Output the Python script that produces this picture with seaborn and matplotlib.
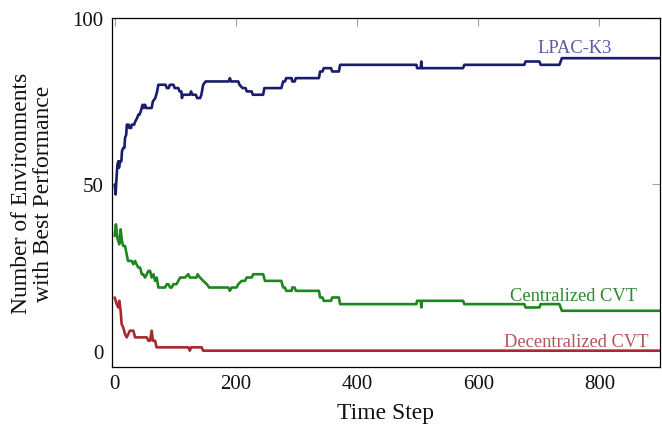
import matplotlib
matplotlib.use("Agg")
import matplotlib.pyplot as plt
import pandas as pd
import seaborn as sns

# ---- data ----
lpac_t = [0, 1.5, 3, 4.5, 6, 7, 9, 11, 12, 14,
          16, 17, 19, 20, 23, 24, 27, 28, 32, 34,
          37, 39, 41, 43, 46, 48, 50, 52, 61, 63,
          67, 70, 72, 84, 86, 89, 91, 97, 99, 105,
          107, 110, 111, 112, 124, 126, 128, 134, 136, 141,
          143, 146, 150, 188, 190, 192, 204, 206, 211, 216,
          218, 226, 228, 245, 247, 275, 278, 281, 283, 292,
          293, 297, 299, 337, 339, 343, 345, 357, 359, 370,
          372, 498, 499, 505, 506, 507, 575, 577, 676, 678,
          701, 703, 734, 738, 900]
lpac_v = [50, 47, 52, 56, 57, 55, 57, 57, 60, 61,
          61, 64, 65, 68, 68, 67, 67, 68, 68, 69,
          70, 71, 71, 72, 74, 73, 74, 73, 73, 75,
          76, 78, 80, 80, 79, 79, 80, 80, 79, 79,
          78, 78, 76, 77, 77, 78, 77, 77, 76, 76,
          77, 80, 81, 81, 82, 81, 81, 80, 79, 79,
          78, 78, 77, 77, 79, 79, 81, 81, 82, 82,
          81, 81, 82, 82, 84, 84, 85, 85, 84, 84,
          86, 86, 85, 85, 87, 85, 85, 86, 86, 87,
          87, 86, 86, 88, 88]

central_t = [0, 2, 4.3, 7.6, 9.8, 12, 14, 17, 19.7, 22,
             28, 30.8, 33.6, 36, 39, 42, 44.6, 47, 50, 53,
             55.6, 58.4, 61, 64, 66.6, 69.4, 72, 83, 86, 88.6,
             91.4, 94, 96.8, 102, 105, 108, 110.6, 116, 121.5, 124,
             135, 136.6, 140.8, 146, 152, 156, 187.5, 190, 193, 201,
             204, 209.6, 215, 217.7, 226, 228.7, 245, 248, 275, 278,
             281, 283, 292, 293, 297, 299, 337, 339, 343, 345,
             357, 359, 370, 372, 498, 499, 505, 506, 507, 575,
             577, 676, 678, 701, 703, 734, 738, 900]
central_v = [34.5, 38, 34, 32, 36.5, 33, 31.5, 31.5, 29, 27,
             27, 26, 27, 26, 25, 25, 23, 23, 22, 23,
             24, 24, 22, 23, 21, 22, 19, 19, 20, 20,
             19, 19, 20, 20, 21, 22, 22, 22, 23, 22,
             22, 23, 22, 21, 20, 19, 19, 18, 19, 19,
             20, 21, 21, 22, 22, 23, 23, 21, 21, 19,
             19, 18, 18, 19, 19, 18, 18, 16, 16, 15,
             15, 16, 16, 14, 14, 15, 15, 13, 15, 15,
             14, 14, 13, 13, 14, 14, 12, 12]

decentral_t = [0, 3.3, 6, 7.6, 9.8, 11.4, 14, 17, 19.7, 22.4,
               25, 30.8, 33.6, 53, 55.6, 58.4, 61, 63, 66.6, 69,
               121.5, 124, 126, 143.5, 146, 900]
decentral_v = [16, 14, 13, 15, 12, 8, 7, 5, 4, 5,
               6, 6, 4, 4, 3, 3, 6, 3, 3, 1,
               1, 0, 1, 1, 0, 0]

series_names = ["LPAC-K3", "Centralized CVT", "Decentralized CVT"]
x_ticks = [0, 200, 400, 600, 800]
y_ticks = [0, 50, 100]
x_label = "Time Step"
y_label = "Number of Environments\nwith Best Performance"

# ---- styling ----
line_colors = ["#1c1c6e", "#1f861f", "#a8282f"]
label_colors = ["#5b5ba3", "#2b8a2b", "#b5545b"]
label_pos = [(759, 90), (757, 15.3), (762, 1.5)]

sns.set_theme(style="white")
plt.rcParams["font.family"] = ["Liberation Serif", "DejaVu Serif"]

frames = []
for name, t, v in zip(series_names,
                      [lpac_t, central_t, decentral_t],
                      [lpac_v, central_v, decentral_v]):
    frames.append(pd.DataFrame({"t": t, "v": v, "method": name}))
df = pd.concat(frames, ignore_index=True)

fig = plt.figure(figsize=(6.62, 4.27), dpi=100)
ax = fig.add_axes([0.1687, 0.1375, 0.8283, 0.8173])

sns.lineplot(data=df, x="t", y="v", hue="method",
             palette=dict(zip(series_names, line_colors)),
             estimator=None, sort=False, linewidth=1.9,
             legend=False, ax=ax)

ax.set_xlim(-5, 900)
ax.set_ylim(-5, 100)
ax.set_xticks(x_ticks)
ax.set_yticks(y_ticks)
ax.tick_params(direction="in", length=6, width=0.8, color="#a0a0a0",
               top=True, right=True, labelsize=15, labelcolor="#111111")
ax.tick_params(axis="x", pad=5)
ax.tick_params(axis="y", pad=6)
for s in ax.spines.values():
    s.set_color("black")
    s.set_linewidth(0.9)

ax.set_xlabel(x_label, fontsize=17, color="#111111", labelpad=6)
ax.set_ylabel(y_label, fontsize=17, color="#111111", linespacing=1.05)
ax.yaxis.set_label_coords(-0.105, 0.5)

for name, col, (px, py) in zip(series_names, label_colors, label_pos):
    ax.text(px, py, name, color=col, fontsize=13.3, ha="center", va="baseline")

fig.savefig("out.png", dpi=100)
